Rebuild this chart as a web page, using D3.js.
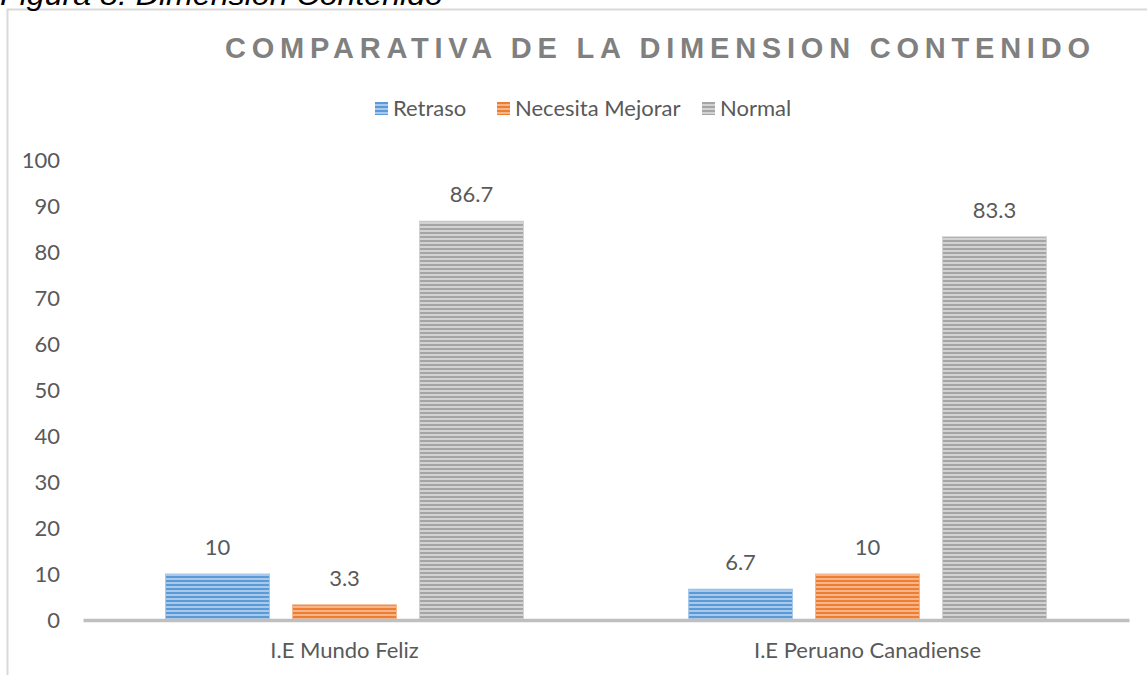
<!DOCTYPE html>
<html>
<head>
<meta charset="utf-8">
<script src="https://cdn.jsdelivr.net/npm/d3@7"></script>
<style>
  body { margin: 0; background: #fff; }
  svg { display: block; }
</style>
</head>
<body>
<svg id="chart"></svg>
<script>
const categories = ['I.E Mundo Feliz', 'I.E Peruano Canadiense'];
const seriesNames = ['Retraso', 'Necesita Mejorar', 'Normal'];
const retraso = [10, 6.7];
const necesitaMejorar = [3.3, 10];
const normal = [86.7, 83.3];
const yTicks = [0, 10, 20, 30, 40, 50, 60, 70, 80, 90, 100];

const colors = ['#5b9bd5', '#ed7d31', '#a5a5a5'];
const lightColors = ['#a9c9ec', '#f6b58a', '#d2d2d2'];

const W = 1147, H = 675;
const plot = { left: 83, right: 1129, top: 160, bottom: 620 };
const textColor = '#595959';
const font = 'Lato, "Noto Sans", sans-serif';

const rows = categories.map((c, i) => ({
    cat: c,
    vals: [retraso[i], necesitaMejorar[i], normal[i]]
}));

const svg = d3.select('#chart')
    .attr('width', W)
    .attr('height', H);

// striped fills
const defs = svg.append('defs');
colors.forEach((c, i) => {
    let p = defs.append('pattern')
        .attr('id', 'stripe' + i)
        .attr('patternUnits', 'userSpaceOnUse')
        .attr('width', 8)
        .attr('height', 4);
    p.append('rect').attr('width', 8).attr('height', 4).attr('fill', lightColors[i]);
    p.append('rect').attr('width', 8).attr('height', 2).attr('fill', c);
});

// outer frame
svg.append('rect')
    .attr('x', 7.5)
    .attr('y', 9.5)
    .attr('width', W + 10)
    .attr('height', H + 10)
    .attr('fill', 'none')
    .attr('stroke', '#d9d9d9')
    .attr('stroke-width', 2);

// caption, cut off at the top like the original
svg.append('text')
    .attr('x', 0)
    .attr('y', 5)
    .attr('textLength', 443)
    .attr('lengthAdjust', 'spacingAndGlyphs')
    .style('font-family', '"Liberation Sans", Arial, sans-serif')
    .style('font-style', 'italic')
    .style('font-size', '30px')
    .style('fill', '#000')
    .text('Figura 8. Dimension Contenido');

// title
svg.append('text')
    .attr('x', 225)
    .attr('y', 58)
    .attr('textLength', 865)
    .attr('lengthAdjust', 'spacing')
    .style('font-family', '"Liberation Sans", Arial, sans-serif')
    .style('font-weight', 'bold')
    .style('font-size', '29px')
    .style('fill', '#808080')
    .text('COMPARATIVA DE LA DIMENSION CONTENIDO');

let xScale = d3.scaleBand()
    .domain(categories)
    .range([plot.left, plot.right])
    .padding(0);

let inner = d3.scaleBand()
    .domain(seriesNames)
    .range([0, xScale.bandwidth()])
    .paddingInner(0.181)
    .paddingOuter(0.65);

let yScale = d3.scaleLinear()
    .domain([0, 100])
    .range([plot.bottom, plot.top]);

// y axis labels
let yAxis = d3.axisLeft(yScale)
    .tickValues(yTicks)
    .tickSize(0)
    .tickPadding(0);

let yg = svg.append('g')
    .attr('transform', `translate(60, 0)`)
    .call(yAxis);
yg.select('.domain').remove();
yg.selectAll('text')
    .attr('dy', '0.36em')
    .style('font-family', font)
    .style('font-size', '22px')
    .style('fill', textColor);

// bars
let groups = svg.append('g')
    .selectAll('g')
    .data(rows)
    .enter()
    .append('g')
    .attr('transform', d => `translate(${xScale(d.cat)}, 0)`);

groups.selectAll('rect')
    .data(d => d.vals.map((v, i) => ({ name: seriesNames[i], v: v, i: i })))
    .enter()
    .append('rect')
    .attr('x', d => inner(d.name))
    .attr('y', d => yScale(d.v))
    .attr('width', inner.bandwidth())
    .attr('height', d => yScale(0) - yScale(d.v))
    .attr('fill', d => `url(#stripe${d.i})`)
    .attr('stroke', d => lightColors[d.i])
    .attr('stroke-width', 1);

// value labels
groups.selectAll('text')
    .data(d => d.vals.map((v, i) => ({ name: seriesNames[i], v: v })))
    .enter()
    .append('text')
    .attr('x', d => inner(d.name) + inner.bandwidth() / 2)
    .attr('y', d => yScale(d.v) - 19)
    .style('text-anchor', 'middle')
    .style('font-family', font)
    .style('font-size', '22px')
    .style('fill', textColor)
    .text(d => d.v);

// x axis
let xAxis = d3.axisBottom(xScale)
    .tickSize(0)
    .tickPadding(0);

let xg = svg.append('g')
    .attr('transform', `translate(0, ${plot.bottom})`)
    .call(xAxis);
xg.select('.domain')
    .attr('stroke', '#bfbfbf')
    .attr('stroke-width', 3.5);
xg.selectAll('text')
    .attr('dy', 0)
    .attr('y', 38)
    .style('font-family', font)
    .style('font-size', '22px')
    .style('fill', textColor);

// legend
const legendX = [375, 497, 702];
let legend = svg.append('g')
    .selectAll('g')
    .data(seriesNames)
    .enter()
    .append('g')
    .attr('transform', (d, i) => `translate(${legendX[i]}, 102)`);

legend.append('rect')
    .attr('width', 13)
    .attr('height', 13)
    .attr('fill', (d, i) => `url(#stripe${i})`);

legend.append('text')
    .attr('x', 18)
    .attr('y', 14)
    .style('font-family', font)
    .style('font-size', '22px')
    .style('fill', textColor)
    .text(d => d);
</script>
</body>
</html>
